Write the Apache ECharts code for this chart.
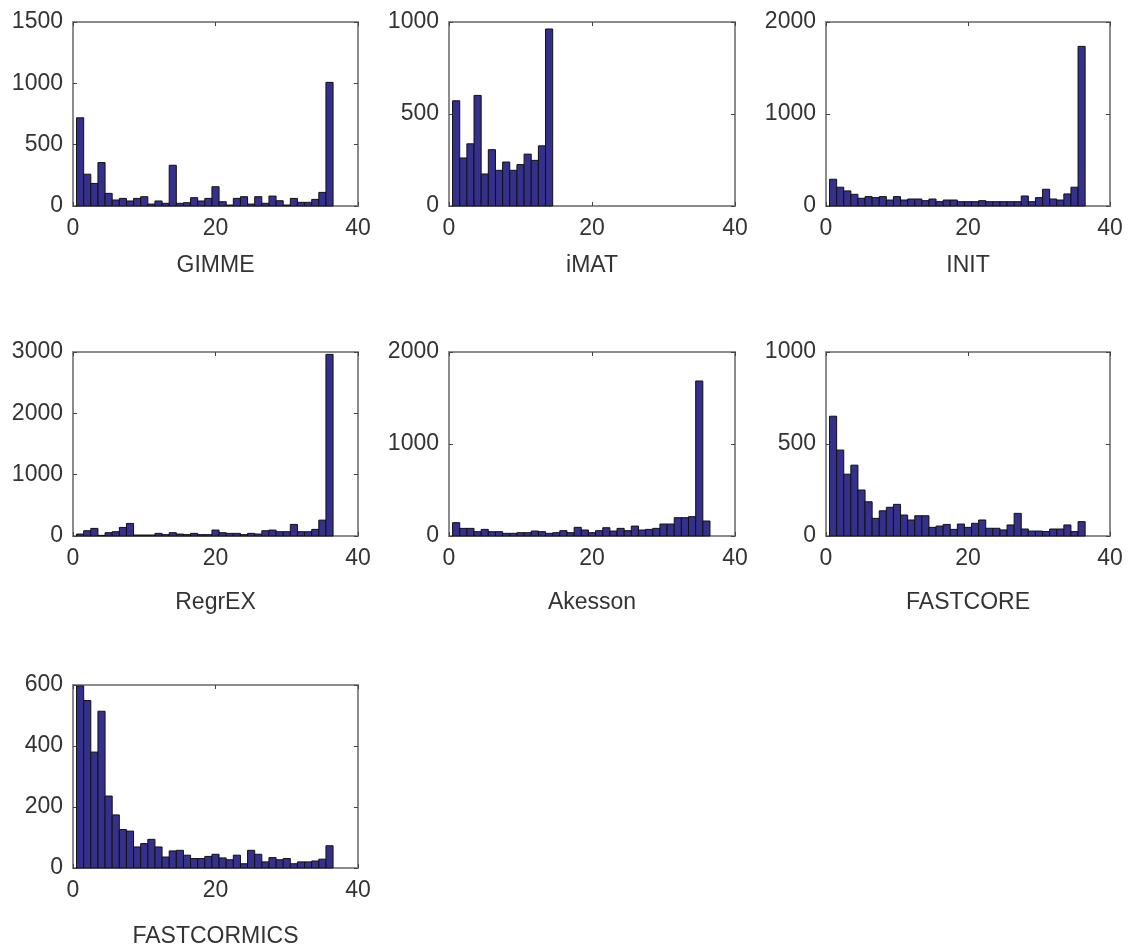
<!DOCTYPE html>
<html>
<head>
<meta charset="utf-8">
<script src="https://cdn.jsdelivr.net/npm/echarts@6/dist/echarts.min.js"></script>
<style>
html, body { margin: 0; padding: 0; background: #fff; }
#main { width: 1129px; height: 950px; }
</style>
</head>
<body>
<div id="main"></div>
<script>
// bin centres (hist with 36 bins)
var bins = [1,2,3,4,5,6,7,8,9,10,11,12,13,14,15,16,17,18,19,20,21,22,23,24,25,26,27,28,29,30,31,32,33,34,35,36];

var gimme = [719,259,184,354,103,49,62,41,62,76,16,41,22,332,22,27,68,41,62,157,35,8,62,76,16,76,22,81,43,8,62,30,30,54,111,1008];
var imat = [572,261,338,601,174,306,194,239,194,225,282,248,327,962,0,0,0,0,0,0,0,0,0,0,0,0,0,0,0,0,0,0,0,0,0,0];
var init = [291,204,164,127,84,102,91,102,65,102,65,76,76,58,76,47,65,65,47,47,47,58,47,47,47,47,47,109,47,91,182,76,65,131,204,1735];
var regrex = [32,86,124,10,54,70,140,205,16,16,16,43,22,54,32,22,43,22,22,97,54,43,43,22,43,32,86,97,70,70,189,70,70,108,259,2962];
var akesson = [145,83,83,47,72,47,47,29,29,36,36,54,47,29,36,58,36,94,65,36,58,90,54,83,58,108,65,72,83,130,130,199,199,210,1685,163];
var fastcore = [651,467,336,385,250,186,96,137,156,172,114,87,110,110,47,54,63,36,65,47,69,87,42,42,33,60,123,38,27,27,24,38,38,60,24,78];
var fastcormics = [597,549,380,514,236,174,126,121,69,80,94,69,36,56,58,42,31,31,38,45,33,27,42,14,58,45,20,34,27,31,14,20,20,23,29,73];

var names = ['GIMME', 'iMAT', 'INIT', 'RegrEX', 'Akesson', 'FASTCORE', 'FASTCORMICS'];
var counts = [gimme, imat, init, regrex, akesson, fastcore, fastcormics];
var yMax = [1500, 1000, 2000, 3000, 2000, 1000, 600];
var yStep = [500, 500, 1000, 1000, 1000, 500, 200];

// panel boxes in px
var cols = [[73, 285], [449, 286], [826, 284]];
var rows = [[22, 184, 48], [352, 184, 55], [685, 183, 57]];

var FONT = '"Liberation Sans", Arial, sans-serif';
var FRAME = '#8c8c8c';
var TXT = '#333';

var myChart = echarts.init(document.getElementById('main'));

function renderBar(params, api) {
    var x = api.value(0), v = api.value(1);
    if (!v) return null;
    var a = api.coord([x - 0.5, v]);
    var b = api.coord([x + 0.5, 0]);
    return {
        type: 'rect',
        shape: { x: a[0], y: a[1], width: b[0] - a[0], height: b[1] - a[1] },
        style: { fill: '#35308c', stroke: '#111', lineWidth: 1 }
    };
}

function plain(v) { return String(v); }

var grid = [], xAxis = [], yAxis = [], series = [];
names.forEach(function (nm, i) {
    var c = cols[i % 3], r = rows[Math.floor(i / 3)];
    grid.push({ left: c[0], top: r[0], width: c[1], height: r[1] });
    var line = { show: true, onZero: false, lineStyle: { color: FRAME, width: 2 } };
    var tick = { show: true, inside: true, length: 4, lineStyle: { color: '#444' } };
    xAxis.push({
        type: 'value', gridIndex: i, min: 0, max: 40, interval: 20, position: 'bottom',
        axisLine: line, axisTick: tick, splitLine: { show: false },
        axisLabel: { color: TXT, fontSize: 23, fontFamily: FONT, margin: 11, formatter: plain },
        name: nm, nameLocation: 'middle', nameGap: r[2],
        nameTextStyle: { color: TXT, fontSize: 23, fontFamily: FONT, verticalAlign: 'top' }
    });
    xAxis.push({
        type: 'value', gridIndex: i, min: 0, max: 40, interval: 20, position: 'top',
        axisLine: line, axisTick: tick, splitLine: { show: false }, axisLabel: { show: false }
    });
    yAxis.push({
        type: 'value', gridIndex: i, min: 0, max: yMax[i], interval: yStep[i], position: 'left',
        axisLine: line, axisTick: tick, splitLine: { show: false },
        axisLabel: { color: TXT, fontSize: 23, fontFamily: FONT, margin: 10, formatter: plain }
    });
    yAxis.push({
        type: 'value', gridIndex: i, min: 0, max: yMax[i], interval: yStep[i], position: 'right',
        axisLine: line, axisTick: tick, splitLine: { show: false }, axisLabel: { show: false }
    });
    series.push({
        type: 'custom', name: nm, xAxisIndex: i * 2, yAxisIndex: i * 2,
        renderItem: renderBar, encode: { x: 0, y: 1 },
        data: bins.map(function (b, k) { return [b, counts[i][k]]; })
    });
});

var option = {
    animation: false,
    backgroundColor: '#fff',
    grid: grid,
    xAxis: xAxis,
    yAxis: yAxis,
    series: series
};
myChart.setOption(option);
onresize = myChart.resize;
</script>
</body>
</html>
